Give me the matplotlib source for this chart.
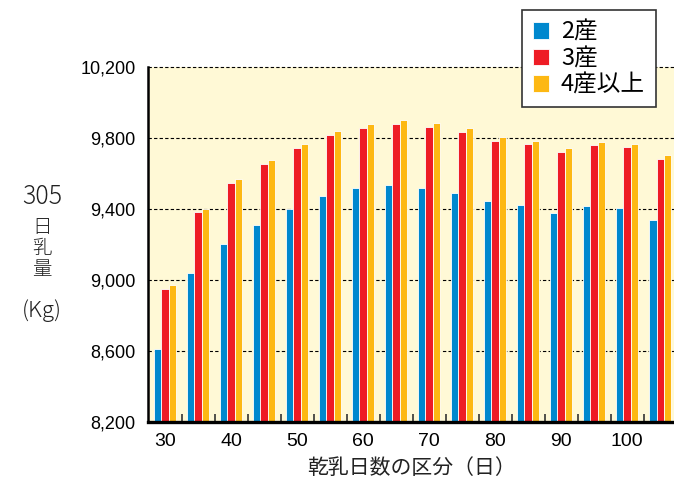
import matplotlib
matplotlib.use('Agg')
import matplotlib.pyplot as plt
import numpy as np

days = [30, 35, 40, 45, 50, 55, 60, 65, 70, 75, 80, 85, 90, 95, 100, 105]
parity2 = [8610, 9040, 9200, 9308, 9398, 9471, 9516, 9533, 9516, 9488, 9443, 9420, 9375, 9414, 9403, 9336]
parity3 = [8948, 9381, 9545, 9652, 9742, 9815, 9855, 9877, 9861, 9832, 9782, 9764, 9719, 9759, 9748, 9680]
parity4 = [8970, 9398, 9567, 9674, 9764, 9838, 9877, 9900, 9883, 9855, 9804, 9782, 9742, 9776, 9764, 9702]
labels = ['2産', '3産', '4産以上']
colors = ['#0088CE', '#EE1C25', '#FDB813']

plt.rcParams['font.family'] = ['Noto Sans CJK JP', 'DejaVu Sans']

fig = plt.figure(figsize=(6.74, 4.91), dpi=100)
ax = fig.add_axes([148/674, 1 - 421.7/491, 1 - 148/674, (421.7 - 66.7)/491])
ax.set_facecolor('#FFF9D6')

x = np.array(days, dtype=float)
w = 1.1
for i, (vals, c, lab) in enumerate(zip([parity2, parity3, parity4], colors, labels)):
    ax.bar(x + (i - 1) * w, vals, width=w, bottom=0, color=c, edgecolor='white',
           linewidth=0.6, label=lab, zorder=3)

ax.set_ylim(8200, 10200)
ax.set_xlim(27.42, 107.1)

yt = [8200, 8600, 9000, 9400, 9800, 10200]
ax.set_yticks(yt)
ax.set_yticklabels([f'{v:,}' for v in yt], family='Liberation Sans', fontsize=13)
for v in yt[1:]:
    ax.axhline(v, color='black', linestyle=(0, (3, 2)), linewidth=0.8, zorder=2, clip_on=False)
ax.tick_params(axis='y', length=0, pad=9)

ax.set_xticks(range(30, 101, 10))
ax.set_xticklabels([str(v) for v in range(30, 101, 10)], family='Liberation Sans', fontsize=14)
ax.set_xticks(np.arange(32.5, 106, 5), minor=True)
ax.tick_params(axis='x', which='major', length=0, pad=8)
ax.tick_params(axis='x', which='minor', direction='in', length=6, width=1.2, color='#333333')

ax.spines['top'].set_visible(False)
ax.spines['right'].set_visible(False)
ax.spines['left'].set_linewidth(1.8)
ax.spines['bottom'].set_linewidth(2.4)
ax.spines['left'].set_zorder(5)
ax.spines['bottom'].set_zorder(5)

ax.set_xlabel('乾乳日数の区分（日）', fontsize=15, color='#222222', labelpad=5)

fig.text(42/674, 1 - 197/491, '305', fontsize=18, fontweight='light', ha='center', va='center', color='#222222')
fig.text(42/674, 1 - 227/491, '日', fontsize=14, fontweight='light', ha='center', va='center', color='#222222')
fig.text(42/674, 1 - 249/491, '乳', fontsize=14, fontweight='light', ha='center', va='center', color='#222222')
fig.text(42/674, 1 - 270/491, '量', fontsize=14, fontweight='light', ha='center', va='center', color='#222222')
fig.text(42/674, 1 - 311/491, '(Kg)', fontsize=16, fontweight='light', ha='center', va='center', color='#222222')

leg = fig.legend(loc='upper left', bbox_to_anchor=(522/674, 1 - 10/491), fontsize=17,
                 frameon=True, fancybox=False, edgecolor='#333333', framealpha=1,
                 handlelength=0.7, handleheight=0.7, handletextpad=0.5,
                 labelspacing=0.15, borderpad=0.45, borderaxespad=0)
leg.get_frame().set_linewidth(1.2)

fig.savefig('out.png', dpi=100)
